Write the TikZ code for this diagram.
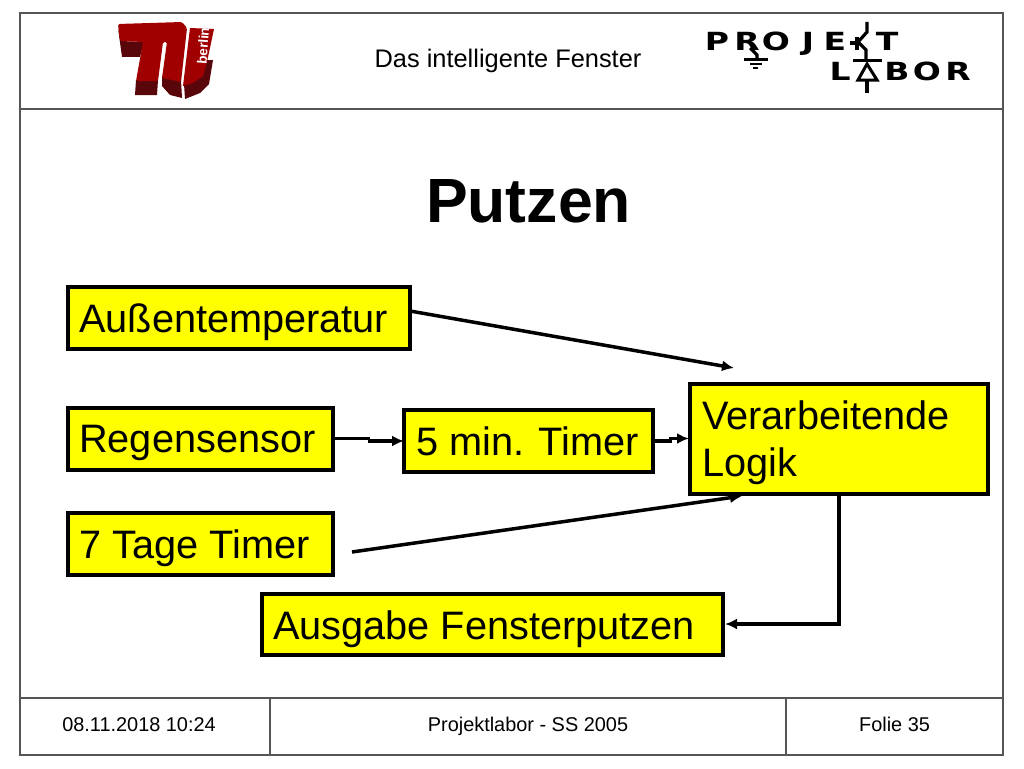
\documentclass[tikz,border=0pt]{standalone}
\usepackage{fontspec}
\setmainfont{Liberation Sans}
\newfontfamily\logofont{DejaVu Sans}
\usetikzlibrary{arrows.meta}
\definecolor{frameg}{RGB}{85,85,85}
\definecolor{tured}{RGB}{160,0,0}
\definecolor{tudark}{RGB}{88,6,10}
\definecolor{boxyel}{RGB}{255,255,0}
\newcommand{\wideL}[1]{\scalebox{1.32}[1]{#1}}
\tikzset{
  box/.style={draw=black,line width=3.1pt,fill=boxyel},
  boxtext/.style={anchor=base west,inner sep=0pt,font=\fontsize{39.7}{46}\selectfont,align=left},
  foot/.style={anchor=base,inner sep=0pt,font=\fontsize{19.9}{23}\selectfont},
  conn/.style={line width=3.5pt,-{Latex[length=12pt,width=11pt]}},
  plainconn/.style={line width=3.5pt},
  frame/.style={draw=frameg,line width=1.6pt},
  logo/.style={black,line width=3.2pt},
  loglet/.style={anchor=base,inner sep=0pt,font=\logofont\fontsize{25}{25}\bfseries\selectfont,text=black}
}
\begin{document}
\begin{tikzpicture}[x=1pt,y=-1pt]
\useasboundingbox (0,0) rectangle (1024,768);
% frame
\draw[frame] (20,13) rectangle (1003,755);
\draw[frame] (20,109) -- (1003,109);
\draw[frame] (20,698) -- (1003,698);
\draw[frame] (270,698) -- (270,755);
\draw[frame] (786,698) -- (786,755);
% header text
\node[anchor=base,inner sep=0pt,font=\fontsize{25.4}{29}\selectfont] (head) at (508,67.5) {Das intelligente Fenster};
% TU logo
\fill[tudark] (118,28) -- (122,57) -- (140,57) -- (144,42) -- (121,41) -- cycle;
\fill[tudark] (136,80) -- (158,80) -- (157,95) -- (135,95) -- cycle;
\fill[tudark] (162,76) -- (181,80) -- (182,98) -- (170,95) -- (162,86) -- cycle;
\fill[tured,rounded corners=1.5pt] (118,24) -- (182,22) -- (187,28) -- (181,82) -- (162,78) -- (167,42) -- (163,42) -- (158,81) -- (136,81) -- (143,42) -- (120,41) -- cycle;
\fill[tudark] (184,84) -- (193,82) -- (203,75) -- (207,60) -- (213,60) -- (209,84) -- (200,93) -- (185,99) -- cycle;
\fill[tured] (190,28) -- (214,29) -- (207,62) -- (203,76) -- (193,83) -- (183,86) -- cycle;
\node[rotate=86,inner sep=0pt,text=white,font=\fontsize{13.5}{13.5}\bfseries\selectfont] (tutext) at (203,46) {berlin};
% Projekt Labor logo
\node[loglet] (lP) at (717,50) {\wideL{P}};
\node[loglet] (lR) at (747,50) {\wideL{R}};
\node[loglet] (lO) at (776,50) {\wideL{O}};
\node[loglet] (lJ) at (808,50) {\wideL{J}};
\node[loglet] (lE) at (835,50) {\wideL{E}};
\node[loglet] (lT) at (887,50) {\wideL{T}};
\node[loglet] (lL) at (840,81) {\wideL{L}};
\node[loglet] (lB) at (897,81) {\wideL{B}};
\node[loglet] (lOb) at (927,81) {\wideL{O}};
\node[loglet] (lRb) at (958,81) {\wideL{R}};
\draw[logo] (750,48) -- (757,55) -- (757,60);
\draw[logo] (744,59.5) -- (768,59.5);
\draw[logo,line width=2.6pt] (750,64) -- (762,64);
\draw[logo,line width=2.2pt] (753,68) -- (758,68);
\draw[logo] (850,43) -- (857,43);
\draw[logo] (867,22) -- (867,32) -- (858,42) -- (866,50) -- (866,60);
\draw[logo] (857,37) -- (857,50);
\draw[logo] (853,60.5) -- (882,60.5);
\draw[logo,line width=3pt,fill=white] (867,64) -- (858,80) -- (877,80) -- cycle;
\draw[logo] (867,80) -- (867,93);
% title
\node[anchor=base,inner sep=0pt,font=\fontsize{62.5}{70}\bfseries\selectfont] (title) at (528.5,222) {Putzen};
% boxes
\draw[box] (68,287) rectangle (410,349);
\node[boxtext] (tA) at (79,332) {Außentemperatur};
\draw[box] (68,408) rectangle (333,470);
\node[boxtext] (tR) at (79,452) {Regensensor};
\draw[box] (404,410) rectangle (653,472);
\node[boxtext] (tT) at (416,455) {5 min. Timer};
\draw[box] (690,384) rectangle (988,494);
\node[boxtext] (tV) at (702,429) {Verarbeitende};
\node[boxtext] (tL) at (702,476) {Logik};
\draw[box] (68,513) rectangle (333,575);
\node[boxtext] (t7) at (79,558) {7 Tage Timer};
\draw[box] (262,594) rectangle (723,655);
\node[boxtext] (tG) at (273,639) {Ausgabe Fensterputzen};
% connectors
\coordinate (a1) at (410,311);
\coordinate (a2) at (734,368);
\coordinate (b1) at (333,438.5);
\coordinate (b3) at (370,438.5);
\coordinate (b4) at (368,441);
\coordinate (b2) at (404,441);
\coordinate (c1) at (653,441);
\coordinate (c3) at (672,441);
\coordinate (c4) at (669,438.5);
\coordinate (c2) at (689,438.5);
\coordinate (d1) at (352,552);
\coordinate (d2) at (742,496);
\coordinate (e1) at (839,494);
\coordinate (e2) at (839,624);
\coordinate (e3) at (725,624);
\draw[conn] (a1) -- (a2);
\draw[plainconn] (b1) -- (b3);
\draw[conn] (b4) -- (b2);
\draw[plainconn] (c1) -- (c3);
\draw[conn] (c4) -- (c2);
\draw[conn] (d1) -- (d2);
\draw[conn] (e1) -- (e2) -- (e3);
% footer
\node[foot] (f1) at (139,731.5) {08.11.2018 10:24};
\node[foot] (f2) at (528,731.5) {Projektlabor - SS 2005};
\node[foot] (f3) at (894.5,731.5) {Folie 35};
\end{tikzpicture}
\end{document}
